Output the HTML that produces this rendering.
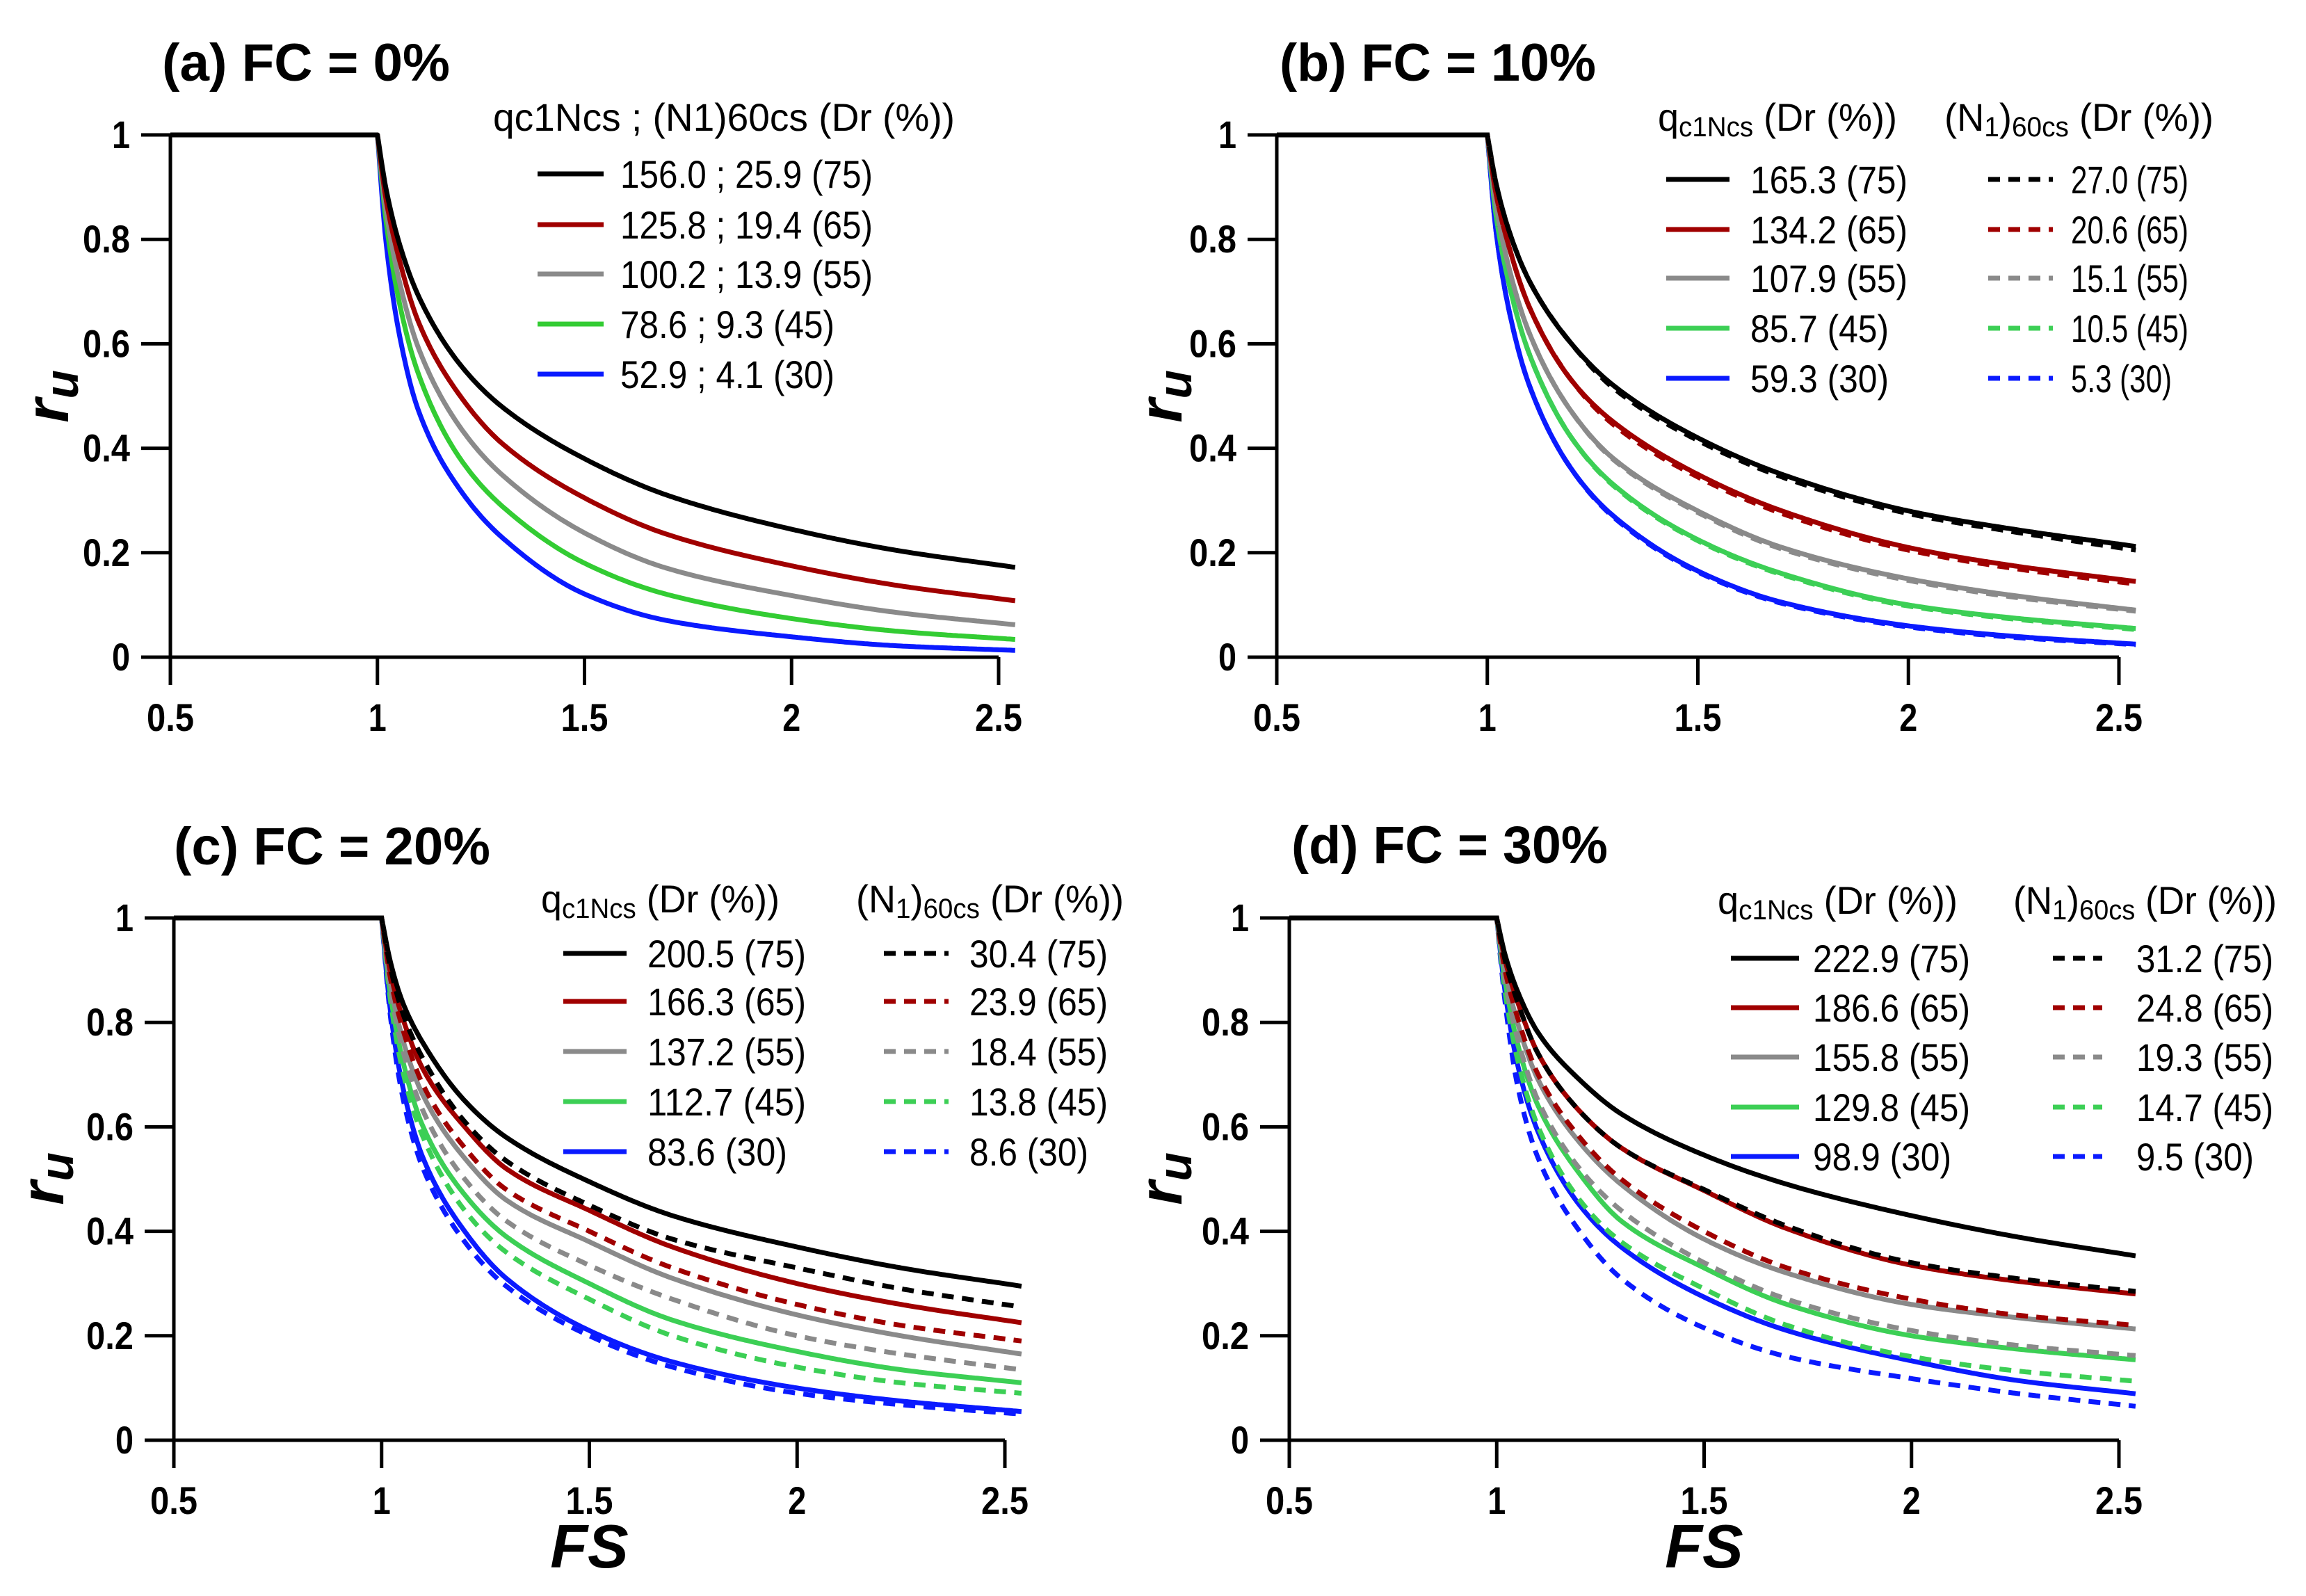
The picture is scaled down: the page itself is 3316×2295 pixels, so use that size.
<!DOCTYPE html>
<html><head><meta charset="utf-8"><title>Pore pressure ratio ru versus FS</title>
<style>html,body{margin:0;padding:0;background:#fff}svg{display:block}text{font-family:"Liberation Sans",sans-serif}</style>
</head><body>
<svg id="chart" xmlns="http://www.w3.org/2000/svg" width="3316" height="2295" viewBox="0 0 3316 2295"></svg>
<script>
// ---- data ----
const FS_GRID = [1, 1.02, 1.05, 1.1, 1.2, 1.3, 1.5, 1.7, 2.0, 2.25, 2.54];
const X_TICKS = [0.5, 1, 1.5, 2, 2.5];
const X_TICK_LABELS = ['0.5', '1', '1.5', '2', '2.5'];
const Y_TICKS = [0, 0.2, 0.4, 0.6, 0.8, 1];
const Y_TICK_LABELS = ['0', '0.2', '0.4', '0.6', '0.8', '1'];
const DR_LEVELS = ['75', '65', '55', '45', '30'];

// panel (a) FC = 0%
const A_Q = [
  [1,0.9,0.8,0.69,0.56,0.48,0.38,0.31,0.245,0.205,0.172],
  [1,0.88,0.77,0.64,0.5,0.41,0.305,0.235,0.175,0.138,0.108],
  [1,0.86,0.73,0.59,0.44,0.35,0.238,0.17,0.118,0.086,0.062],
  [1,0.84,0.69,0.54,0.38,0.29,0.18,0.12,0.074,0.05,0.034],
  [1,0.8,0.63,0.47,0.32,0.23,0.121,0.07,0.039,0.022,0.013]];
const A_LABELS = ['156.0 ; 25.9 (75)','125.8 ; 19.4 (65)','100.2 ; 13.9 (55)','78.6 ; 9.3 (45)','52.9 ; 4.1 (30)'];

// panel (b) FC = 10%
const B_Q = [
  [1,0.91,0.82,0.72,0.6,0.52,0.42,0.35,0.28,0.245,0.212],
  [1,0.89,0.79,0.67,0.53,0.45,0.35,0.28,0.21,0.175,0.145],
  [1,0.87,0.75,0.62,0.47,0.38,0.28,0.21,0.15,0.118,0.09],
  [1,0.85,0.72,0.58,0.42,0.33,0.225,0.16,0.1,0.075,0.055],
  [1,0.82,0.67,0.52,0.36,0.27,0.165,0.105,0.06,0.04,0.025]];
const B_N = [
  [1,0.91,0.82,0.72,0.6,0.515,0.415,0.345,0.275,0.24,0.205],
  [1,0.89,0.79,0.67,0.53,0.445,0.345,0.275,0.205,0.17,0.14],
  [1,0.87,0.75,0.62,0.47,0.378,0.277,0.207,0.147,0.115,0.088],
  [1,0.85,0.72,0.58,0.42,0.328,0.223,0.158,0.098,0.073,0.053],
  [1,0.82,0.67,0.52,0.36,0.268,0.163,0.103,0.058,0.038,0.024]];
const B_QLABELS = ['165.3 (75)','134.2 (65)','107.9 (55)','85.7 (45)','59.3 (30)'];
const B_NLABELS = ['27.0 (75)','20.6 (65)','15.1 (55)','10.5 (45)','5.3 (30)'];

// panel (c) FC = 20%
const C_Q = [
  [1,0.92,0.84,0.76,0.65,0.58,0.495,0.43,0.37,0.33,0.295],
  [1,0.9,0.81,0.71,0.6,0.52,0.44,0.37,0.3,0.26,0.225],
  [1,0.88,0.77,0.66,0.54,0.46,0.38,0.31,0.24,0.2,0.165],
  [1,0.86,0.73,0.6,0.47,0.39,0.3,0.23,0.17,0.135,0.11],
  [1,0.83,0.68,0.54,0.4,0.31,0.21,0.15,0.1,0.075,0.055]];
const C_N = [
  [1,0.91,0.82,0.73,0.61,0.535,0.45,0.385,0.33,0.29,0.255],
  [1,0.89,0.79,0.68,0.56,0.48,0.4,0.33,0.26,0.22,0.19],
  [1,0.87,0.75,0.63,0.5,0.42,0.335,0.27,0.2,0.165,0.135],
  [1,0.85,0.71,0.58,0.44,0.36,0.27,0.2,0.14,0.11,0.09],
  [1,0.82,0.66,0.52,0.38,0.295,0.2,0.14,0.09,0.068,0.05]];
const C_QLABELS = ['200.5 (75)','166.3 (65)','137.2 (55)','112.7 (45)','83.6 (30)'];
const C_NLABELS = ['30.4 (75)','23.9 (65)','18.4 (55)','13.8 (45)','8.6 (30)'];

// panel (d) FC = 30%
const D_Q = [
  [1,0.93,0.86,0.78,0.69,0.625,0.546,0.49,0.43,0.39,0.353],
  [1,0.92,0.84,0.74,0.63,0.56,0.478,0.405,0.335,0.305,0.28],
  [1,0.9,0.8,0.69,0.57,0.49,0.385,0.32,0.26,0.235,0.213],
  [1,0.88,0.76,0.64,0.51,0.42,0.33,0.26,0.2,0.175,0.154],
  [1,0.86,0.72,0.59,0.45,0.37,0.274,0.21,0.152,0.115,0.089]];
const D_N = [
  [1,0.92,0.84,0.74,0.63,0.56,0.48,0.41,0.34,0.31,0.285],
  [1,0.9,0.81,0.7,0.58,0.5,0.4,0.33,0.27,0.24,0.22],
  [1,0.88,0.77,0.65,0.52,0.44,0.34,0.27,0.21,0.182,0.162],
  [1,0.86,0.73,0.6,0.46,0.38,0.29,0.22,0.16,0.133,0.113],
  [1,0.84,0.68,0.54,0.4,0.31,0.215,0.16,0.118,0.09,0.065]];
const D_QLABELS = ['222.9 (75)','186.6 (65)','155.8 (55)','129.8 (45)','98.9 (30)'];
const D_NLABELS = ['31.2 (75)','24.8 (65)','19.3 (55)','14.7 (45)','9.5 (30)'];

// ---- styling / layout ----
const COLORS = ['#000000', '#a00000', '#8a8a8a', '#3ccf55', '#0a1aff'];
const COLORS_A = ['#000000', '#a00000', '#8a8a8a', '#33cc33', '#0a1aff'];
const NS = 'http://www.w3.org/2000/svg';
const svg = document.getElementById('chart');

function mk(parent, tag, attrs) {
  const e = document.createElementNS(NS, tag);
  for (const k in attrs) e.setAttribute(k, attrs[k]);
  parent.appendChild(e);
  return e;
}
function txt(parent, x, y, s, size, weight, anchor, tl) {
  const e = mk(parent, 'text', {x: x, y: y, 'font-size': size, 'font-weight': weight, 'text-anchor': anchor || 'start', fill: '#000'});
  if (tl) { e.setAttribute('textLength', tl); e.setAttribute('lengthAdjust', 'spacingAndGlyphs'); }
  e.textContent = s;
  return e;
}

const PANELS = [
  {id: 'a', x0: 245, x1: 1436, yb: 945, yt: 194, title: '(a) FC = 0%', tx: 233, ty: 116, tl: 414, rx: 70, ry: 570, q: A_Q, n: null, colors: COLORS_A},
  {id: 'b', x0: 1836, x1: 3047, yb: 945, yt: 194, title: '(b) FC = 10%', tx: 1840, ty: 116, tl: 455, rx: 1671, ry: 570, q: B_Q, n: B_N, colors: COLORS},
  {id: 'c', x0: 250, x1: 1445, yb: 2071, yt: 1320, title: '(c) FC = 20%', tx: 250, ty: 1243, tl: 455, rx: 63, ry: 1695, q: C_Q, n: C_N, colors: COLORS, fs: true},
  {id: 'd', x0: 1854, x1: 3047, yb: 2071, yt: 1320, title: '(d) FC = 30%', tx: 1857, ty: 1241, tl: 455, rx: 1671, ry: 1695, q: D_Q, n: D_N, colors: COLORS, fs: true}
];

// monotone cubic (Fritsch-Carlson) interpolation in data space
function monotone(xs, ys) {
  const n = xs.length, d = [], m = new Array(n);
  for (let i = 0; i < n - 1; i++) d.push((ys[i + 1] - ys[i]) / (xs[i + 1] - xs[i]));
  m[0] = d[0]; m[n - 1] = d[n - 2];
  for (let i = 1; i < n - 1; i++) {
    if (d[i - 1] * d[i] <= 0) m[i] = 0;
    else {
      const w1 = 2 * (xs[i + 1] - xs[i]) + (xs[i] - xs[i - 1]);
      const w2 = (xs[i + 1] - xs[i]) + 2 * (xs[i] - xs[i - 1]);
      m[i] = (w1 + w2) / (w1 / d[i - 1] + w2 / d[i]);
    }
  }
  return function (x) {
    let i = 0;
    while (i < n - 2 && x > xs[i + 1]) i++;
    const h = xs[i + 1] - xs[i], t = (x - xs[i]) / h;
    const h00 = 2 * t * t * t - 3 * t * t + 1, h10 = t * t * t - 2 * t * t + t;
    const h01 = -2 * t * t * t + 3 * t * t, h11 = t * t * t - t * t;
    return h00 * ys[i] + h10 * h * m[i] + h01 * ys[i + 1] + h11 * h * m[i + 1];
  };
}
function curvePath(xf, yf, vals) {
  const f = monotone(FS_GRID, vals);
  let d = 'M' + xf(0.5) + ',' + yf(vals[0]) + ' L' + xf(1) + ',' + yf(vals[0]);
  const x0 = FS_GRID[0], x1 = FS_GRID[FS_GRID.length - 1];
  const N = 300;
  for (let k = 1; k <= N; k++) {
    const u = k / N;
    const x = x0 + (x1 - x0) * u * u * 0.3 + (x1 - x0) * u * 0.7;
    d += ' L' + xf(x).toFixed(1) + ',' + yf(f(x)).toFixed(1);
  }
  return d;
}

PANELS.forEach(P => {
  const g = mk(svg, 'g', {});
  
  
  const xf = v => P.x0 + (v - 0.5) / 2 * (P.x1 - P.x0);
  const yf = v => P.yb - v * (P.yb - P.yt);

  const t = txt(g, P.tx, P.ty, P.title, 76, 'bold', 'start', P.tl);
  
  

  const ax = mk(g, 'path', {d: 'M' + xf(0.5) + ',' + yf(1) + ' V' + P.yb + ' M' + (P.x0 - 42) + ',' + P.yb + ' H' + P.x1, stroke: '#000', 'stroke-width': 5, fill: 'none'});
  
  
  Y_TICKS.forEach((v, i) => {
    const tk = mk(g, 'line', {x1: P.x0 - 42, x2: P.x0, y1: yf(v), y2: yf(v), stroke: '#000', 'stroke-width': 5});
    
    
    const lb = txt(g, P.x0 - 58, yf(v) + 19, Y_TICK_LABELS[i], 56, 'bold', 'end', Y_TICK_LABELS[i].length > 1 ? 68 : 26);
    
    
  });
  X_TICKS.forEach((v, i) => {
    const tk = mk(g, 'line', {x1: xf(v), x2: xf(v), y1: P.yb, y2: P.yb + 40, stroke: '#000', 'stroke-width': 5});
    
    
    const lb = txt(g, xf(v), P.yb + 106, X_TICK_LABELS[i], 56, 'bold', 'middle', X_TICK_LABELS[i].length > 1 ? 68 : 26);
    
    
  });

  const yt = mk(g, 'text', {x: 0, y: 0, 'font-size': 88, 'font-weight': 'bold', 'font-style': 'italic', 'text-anchor': 'middle', transform: 'translate(' + (P.rx + 28) + ',' + P.ry + ') rotate(-90)'});
  
  
  const r1 = mk(yt, 'tspan', {}); r1.textContent = 'r';
  const r2 = mk(yt, 'tspan', {dy: 14, 'font-size': 68}); r2.textContent = 'u';

  if (P.fs) {
    const fx = txt(g, xf(1.5), 2254, 'FS', 88, 'bold', 'middle');
    fx.setAttribute('font-style', 'italic');
    
    
  }

  for (let i = 4; i >= 0; i--) {
    const p = mk(g, 'path', {d: curvePath(xf, yf, P.q[i]), stroke: P.colors[i], 'stroke-width': 7, fill: 'none', 'stroke-linejoin': 'round'});
    
    
  }
  if (P.n) {
    for (let i = 4; i >= 0; i--) {
      const p = mk(g, 'path', {d: curvePath(xf, yf, P.n[i]), stroke: P.colors[i], 'stroke-width': 7, fill: 'none', 'stroke-dasharray': '17 12'});
      
      
    }
  }
  const flat = mk(g, 'line', {x1: xf(0.5), x2: xf(1), y1: yf(1), y2: yf(1), stroke: '#000', 'stroke-width': 7});
  
  
});

// ---- legends ----
function legendRow(g, x1, x2, y, color, dashed, label, tx, tlen) {
  const l = mk(g, 'line', {x1: x1, x2: x2, y1: y, y2: y, stroke: color, 'stroke-width': 7});
  if (dashed) l.setAttribute('stroke-dasharray', '17 12');
  
  
  const t = txt(g, tx, y + 20, label, 56, 'normal', 'start', tlen);
  
  
}
function qHeader(g, x, y, w) {
  const t = mk(g, 'text', {x: x, y: y, 'font-size': 56, textLength: w, lengthAdjust: 'spacingAndGlyphs'});
  
  
  const a = mk(t, 'tspan', {}); a.textContent = 'q';
  const b = mk(t, 'tspan', {dy: 8, 'font-size': 40}); b.textContent = 'c1Ncs';
  const c = mk(t, 'tspan', {dy: -8}); c.textContent = ' (Dr (%))';
}
function nHeader(g, x, y, w) {
  const t = mk(g, 'text', {x: x, y: y, 'font-size': 56, textLength: w, lengthAdjust: 'spacingAndGlyphs'});
  
  
  const a = mk(t, 'tspan', {}); a.textContent = '(N';
  const b = mk(t, 'tspan', {dy: 8, 'font-size': 40}); b.textContent = '1';
  const c = mk(t, 'tspan', {dy: -8}); c.textContent = ')';
  const d = mk(t, 'tspan', {dy: 8, 'font-size': 40}); d.textContent = '60cs';
  const e = mk(t, 'tspan', {dy: -8}); e.textContent = ' (Dr (%))';
}

(function () {
  const g = mk(svg, 'g', {});
  
  
  const h = txt(g, 709, 188, 'qc1Ncs ; (N1)60cs (Dr (%))', 56, 'normal', 'start', 664);
  
  
  const rows = [250, 323, 394, 466, 538];
  const lens = [363, 363, 363, 308, 308];
  rows.forEach((y, i) => legendRow(g, 773, 868, y, COLORS_A[i], false, A_LABELS[i], 892, lens[i]));
})();

const LEG = [
  {id: 'b', h1: 2384, h1w: 344, h2: 2796, h2w: 387, hy: 188, rows: [258, 330, 400, 472, 544], s1: 2396, s2: 2487, st: 2517, sw: 226, d1: 2859, d2: 2952, dt: 2978, dw: 169, ql: B_QLABELS, nl: B_NLABELS},
  {id: 'c', h1: 778, h1w: 343, h2: 1231, h2w: 385, hy: 1312, rows: [1371, 1440, 1512, 1584, 1656], s1: 810, s2: 901, st: 931, sw: 228, d1: 1271, d2: 1364, dt: 1394, dw: 199, ql: C_QLABELS, nl: C_NLABELS},
  {id: 'd', h1: 2470, h1w: 345, h2: 2895, h2w: 379, hy: 1314, rows: [1378, 1449, 1520, 1592, 1663], s1: 2489, s2: 2587, st: 2607, sw: 226, d1: 2952, d2: 3023, dt: 3072, dw: 197, ql: D_QLABELS, nl: D_NLABELS}
];
LEG.forEach(L => {
  const g = mk(svg, 'g', {});
  
  
  qHeader(g, L.h1, L.hy, L.h1w);
  nHeader(g, L.h2, L.hy, L.h2w);
  L.rows.forEach((y, i) => {
    const short = L.ql[i].length < 10;
    legendRow(g, L.s1, L.s2, y, COLORS[i], false, L.ql[i], L.st, short ? Math.round(L.sw * 0.88) : L.sw);
    const shortN = L.nl[i].length < 9;
    legendRow(g, L.d1, L.d2, y, COLORS[i], true, L.nl[i], L.dt, shortN ? Math.round(L.dw * 0.86) : L.dw);
  });
});
</script>
</body></html>
